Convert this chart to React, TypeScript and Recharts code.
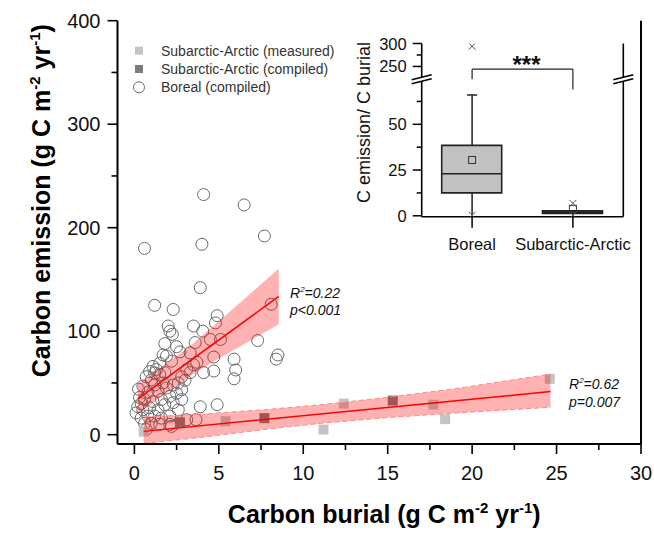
import React from 'react';
import { ComposedChart, Scatter, Line, Area, Bar, XAxis, YAxis, ReferenceLine } from 'recharts';

const FONT = '"Liberation Sans", Arial, Helvetica, sans-serif';

// ---------- main scatter data ----------
const seriesNames = ['Subarctic-Arctic (measured)', 'Subarctic-Arctic (compiled)', 'Boreal (compiled)'];

const borealPoints: [number, number][] = [
  [4.1, 232], [6.5, 222], [0.6, 180], [4.0, 184], [7.7, 192], [3.9, 142],
  [1.2, 125], [2.3, 121], [8.1, 126], [4.9, 115], [2.0, 105], [2.1, 100], [2.25, 97],
  [3.5, 105], [4.05, 100], [4.8, 108], [5.1, 92], [7.3, 91], [4.5, 92], [3.6, 89],
  [1.8, 88], [2.5, 85], [2.7, 80], [1.9, 76], [3.3, 79], [4.7, 75], [5.9, 73],
  [8.5, 77], [8.4, 73], [3.7, 70], [3.1, 63], [4.1, 60], [4.7, 61.5], [6.0, 62.5],
  [5.9, 54], [3.0, 52.5], [3.9, 27], [4.9, 29], [3.3, 60], [3.5, 67.6], [2.8, 56],
  [1.1, 66], [0.9, 61], [1.3, 63], [0.7, 56], [1.0, 53], [1.5, 58], [1.8, 60],
  [1.2, 48], [1.7, 50], [0.5, 47], [0.25, 44], [0.8, 41], [1.4, 42], [1.9, 45],
  [2.3, 48], [2.6, 50], [2.8, 43.5], [0.6, 34], [1.1, 32], [1.6, 34], [2.1, 37],
  [2.5, 40], [0.2, 27], [0.5, 24], [0.9, 26], [1.4, 24], [1.8, 29], [2.3, 31],
  [0.1, 21], [0.4, 16], [0.8, 18], [1.2, 18], [1.6, 16], [2.1, 18], [1.0, 11],
  [0.6, 11], [1.5, 10], [2.1, 10], [0.7, 5], [3.1, 14.5], [3.65, 14.5], [2.6, 24],
  [2.8, 34], [1.5, 69], [2.2, 71], [2.2, 8], [0.3, 36], [0.4, 30], [1.7, 77], [1.2, 59.6],
];
const subMeasuredPoints: [number, number][] = [
  [0.55, 3], [5.4, 13], [11.2, 5], [12.4, 30], [17.7, 29], [18.4, 15], [24.6, 54],
];
const subCompiledPoints: [number, number][] = [[2.7, 12], [7.7, 16], [15.3, 33]];

// regression lines and 95% bands
const borealFitX = [0.2, 8.55];
const borealFitY = [34.5, 133.6];
const borealBandX = [0.2, 1.5, 3.5, 5, 7, 8.55];
const borealBandLow = [20, 35.9, 58.6, 73.5, 92.2, 106.6];
const borealBandHigh = [49, 63.9, 88.6, 109.5, 138.2, 160.6];

const subFitX = [0.55, 24.64];
const subFitY = [3.2, 41.7];
const subBandX = [0.55, 4, 8, 11, 15, 19, 24.64];
const subBandLow = [-8.5, -2.5, 5.65, 10.9, 16.5, 20.9, 26.5];
const subBandHigh = [17, 19.9, 24.55, 28.9, 36.1, 44.5, 58.5];

const xTicks = [0, 2.5, 5, 7.5, 10, 12.5, 15, 17.5, 20, 22.5, 25, 27.5, 30];
const yTicks = [0, 50, 100, 150, 200, 250, 300, 350, 400];
const X_DOMAIN: [number, number] = [-1, 30];
const Y_DOMAIN: [number, number] = [-9, 400];

// ---------- inset box plot data ----------
const insetCategories = ['Boreal', 'Subarctic-Arctic'];
const boxQ1 = [12.5, 1.3];
const boxQ3 = [38.5, 2.7];
const boxMedian = [23, 2];
const boxMean = [30.5, 3.8];
const whiskerLow = [0.5, 0.6];
const whiskerHigh = [66, 2.7];
const boxMin = [0.3, 0.4];
const boxMax = [294, 6.8];
const LOWER_DOMAIN: [number, number] = [-0.5, 74.6];
const UPPER_DOMAIN: [number, number] = [222, 300];
const lowerTicks = [0, 12.5, 25, 37.5, 50, 62.5];
const lowerMajor = [0, 25, 50];
const upperTicks = [250, 275, 300];
const upperMajor = [250, 300];
const bracketY = 244;
const bracketRightEnd = 69;

const toXY = (pts: [number, number][]) => pts.map(([x, y]) => ({ x, y }));
const borealData = toXY(borealPoints);
const subMeasuredData = toXY(subMeasuredPoints);
const subCompiledData = toXY(subCompiledPoints);
const borealFit = borealFitX.map((x, i) => ({ x, y: borealFitY[i] }));
const subFit = subFitX.map((x, i) => ({ x, y: subFitY[i] }));
const borealBand = borealBandX.map((x, i) => ({ x, band: [borealBandLow[i], borealBandHigh[i]] }));
const subBand = subBandX.map((x, i) => ({ x, band: [subBandLow[i], subBandHigh[i]] }));

const boxRows = insetCategories.map((name, i) => ({
  name,
  box: [boxQ1[i], boxQ3[i]],
  q1: boxQ1[i],
  q3: boxQ3[i],
  median: boxMedian[i],
  mean: boxMean[i],
  wLow: whiskerLow[i],
  wHigh: whiskerHigh[i],
  min: boxMin[i],
  max: boxMax[i],
}));

const MEASURED_COLOR = '#c4c4c4';
const COMPILED_COLOR = '#7c7c7c';
const CIRCLE_COLOR = '#6a6a6a';

// ---------- ticks ----------
const MainXTick = (props: any) => {
  const { x, y, payload } = props;
  const v = payload.value;
  const major = v % 5 === 0;
  return (
    <g>
      <line x1={x} y1={y} x2={x} y2={y + (major ? 10 : 6)} stroke="#000" strokeWidth={1.6} />
      {major && (
        <text x={x} y={y + 36} textAnchor="middle" fontSize={20} fontFamily={FONT} fill="#111">
          {v}
        </text>
      )}
    </g>
  );
};

const MainYTick = (props: any) => {
  const { x, y, payload } = props;
  const v = payload.value;
  const major = v % 100 === 0;
  return (
    <g>
      <line x1={x} y1={y} x2={x - (major ? 10 : 6)} y2={y} stroke="#000" strokeWidth={1.6} />
      {major && (
        <text x={x - 17} y={y + 7} textAnchor="end" fontSize={20} fontFamily={FONT} fill="#111">
          {v}
        </text>
      )}
    </g>
  );
};

const makeInsetYTick = (majors: number[]) => (props: any) => {
  const { x, y, payload } = props;
  const major = majors.includes(payload.value);
  return (
    <g>
      <line x1={x} y1={y} x2={x - (major ? 9 : 5)} y2={y} stroke="#000" strokeWidth={1.5} />
      {major && (
        <text x={x - 15} y={y + 6} textAnchor="end" fontSize={16.5} fontFamily={FONT} fill="#111">
          {payload.value}
        </text>
      )}
    </g>
  );
};

const InsetXTick = (props: any) => {
  const { x, y, payload } = props;
  return (
    <g>
      <line x1={x} y1={y} x2={x} y2={y + 11} stroke="#000" strokeWidth={1.5} />
      <text x={x} y={y + 33} textAnchor="middle" fontSize={16.5} fontFamily={FONT} fill="#111">
        {payload.value}
      </text>
    </g>
  );
};

// ---------- titles ----------
const XTitle = (props: any) => {
  const vb = props.viewBox || { x: 117.5, y: 444, width: 523.5, height: 89 };
  const cx = vb.x + vb.width / 2 + 5;
  return (
    <text x={cx} y={vb.y + 79} textAnchor="middle" fontSize={25} fontWeight="bold" fontFamily={FONT} fill="#000">
      <tspan>Carbon burial (g C m</tspan>
      <tspan fontSize={15} dy={-10}>-2</tspan>
      <tspan dy={10}> yr</tspan>
      <tspan fontSize={15} dy={-10}>-1</tspan>
      <tspan dy={10}>)</tspan>
    </text>
  );
};

const YTitle = (props: any) => {
  const vb = props.viewBox || { x: 0, y: 20.7, width: 117.5, height: 423.3 };
  const x = vb.x + 50;
  const y = vb.y + 180;
  return (
    <text
      x={x}
      y={y}
      transform={`rotate(-90, ${x}, ${y})`}
      textAnchor="middle"
      fontSize={25}
      fontWeight="bold"
      fontFamily={FONT}
      fill="#000"
    >
      <tspan>Carbon emission (g C m</tspan>
      <tspan fontSize={15} dy={-10}>-2</tspan>
      <tspan dy={10}> yr</tspan>
      <tspan fontSize={15} dy={-10}>-1</tspan>
      <tspan dy={10}>)</tspan>
    </text>
  );
};

// ---------- shapes ----------
const circleShape = (p: any) => (
  <circle cx={p.cx} cy={p.cy} r={6} fill="none" stroke={CIRCLE_COLOR} strokeWidth={1} />
);
const squareShape = (color: string) => (p: any) => (
  <rect x={p.cx - 5} y={p.cy - 5} width={10} height={10} fill={color} />
);
const medianShape = (p: any) => (
  <line x1={p.cx - 30} x2={p.cx + 30} y1={p.cy} y2={p.cy} stroke="#222" strokeWidth={1.6} />
);
const capShape = (p: any) => (
  <line x1={p.cx - 5} x2={p.cx + 5} y1={p.cy} y2={p.cy} stroke="#222" strokeWidth={1.5} />
);
const meanShape = (p: any) => (
  <rect x={p.cx - 3.5} y={p.cy - 3.5} width={7} height={7} fill="none" stroke="#333" strokeWidth={1} />
);
const crossShape = (p: any) => (
  <g stroke="#555" strokeWidth={1}>
    <line x1={p.cx - 3.5} y1={p.cy - 3.5} x2={p.cx + 3.5} y2={p.cy + 3.5} />
    <line x1={p.cx - 3.5} y1={p.cy + 3.5} x2={p.cx + 3.5} y2={p.cy - 3.5} />
  </g>
);

const starsLabel = (props: any) => {
  const vb = props.viewBox || { x: 0, y: 0, width: 0 };
  return (
    <text x={vb.x + vb.width / 2 + 4} y={vb.y + 4} textAnchor="middle" fontSize={24} fontWeight="bold" fontFamily={FONT} fill="#111">
      ***
    </text>
  );
};

// ---------- charts ----------
const MainChart = () => (
  <ComposedChart width={654} height={533} margin={{ top: 20.7, right: 12, bottom: 0, left: 0 }}>
    <XAxis
      dataKey="x"
      type="number"
      domain={X_DOMAIN}
      ticks={xTicks}
      allowDataOverflow
      interval={0}
      height={89}
      tickSize={0}
      tickMargin={0}
      tickLine={false}
      tick={MainXTick}
      axisLine={{ stroke: '#000', strokeWidth: 2 }}
      label={XTitle}
    />
    <XAxis
      xAxisId="top"
      orientation="top"
      type="number"
      domain={X_DOMAIN}
      allowDataOverflow
      height={0}
      tick={false}
      tickLine={false}
      axisLine={{ stroke: '#000', strokeWidth: 2 }}
    />
    <YAxis
      type="number"
      domain={Y_DOMAIN}
      ticks={yTicks}
      allowDataOverflow
      interval={0}
      width={117.5}
      tickSize={0}
      tickMargin={0}
      tickLine={false}
      tick={MainYTick}
      axisLine={{ stroke: '#000', strokeWidth: 2 }}
      label={YTitle}
    />
    <YAxis
      yAxisId="right"
      orientation="right"
      type="number"
      domain={Y_DOMAIN}
      allowDataOverflow
      width={1}
      tick={false}
      tickLine={false}
      axisLine={{ stroke: '#000', strokeWidth: 2 }}
    />
    <Scatter name={seriesNames[2]} data={borealData} dataKey="y" shape={circleShape} isAnimationActive={false} zIndex={50} />
    <Scatter name={seriesNames[0]} data={subMeasuredData} dataKey="y" shape={squareShape(MEASURED_COLOR)} isAnimationActive={false} zIndex={50} />
    <Scatter name={seriesNames[1]} data={subCompiledData} dataKey="y" shape={squareShape(COMPILED_COLOR)} isAnimationActive={false} zIndex={50} />
    <Area data={borealBand} dataKey="band" type="linear" fill="#ff0000" fillOpacity={0.3} stroke="none" isAnimationActive={false} dot={false} activeDot={false} zIndex={150} />
    <Area
      data={subBand}
      dataKey="band"
      type="linear"
      fill="#ff0000"
      fillOpacity={0.3}
      stroke="#ff8a8a"
      strokeWidth={1}
      strokeDasharray="5 3"
      isAnimationActive={false}
      dot={false}
      activeDot={false}
      zIndex={150}
    />
    <Line data={borealFit} dataKey="y" type="linear" stroke="#ff0000" strokeWidth={1.5} dot={false} activeDot={false} isAnimationActive={false} zIndex={400} />
    <Line data={subFit} dataKey="y" type="linear" stroke="#ff0000" strokeWidth={1.5} dot={false} activeDot={false} isAnimationActive={false} zIndex={400} />
  </ComposedChart>
);

const INSET_LEFT = 421.7;
const INSET_RIGHT = 623.3;
const INSET_TOP = 43.5;
const INSET_BREAK = 79.3;
const INSET_BOTTOM = 216.7;
const INSET_YAXIS_W = 60;
const INSET_XAXIS_H = 40;

const InsetUpper = () => (
  <ComposedChart
    width={654}
    height={533}
    data={boxRows}
    margin={{ top: INSET_TOP, right: 654 - INSET_RIGHT - 1, bottom: 533 - INSET_BREAK, left: INSET_LEFT - INSET_YAXIS_W }}
  >
    <XAxis
      dataKey="name"
      type="category"
      scale="band"
      orientation="top"
      height={0}
      tick={false}
      tickLine={false}
      axisLine={{ stroke: '#000', strokeWidth: 1.6 }}
    />
    <YAxis
      type="number"
      domain={UPPER_DOMAIN}
      ticks={upperTicks}
      allowDataOverflow
      interval={0}
      width={INSET_YAXIS_W}
      tickSize={0}
      tickMargin={0}
      tickLine={false}
      tick={makeInsetYTick(upperMajor)}
      axisLine={{ stroke: '#000', strokeWidth: 1.6 }}
    />
    <YAxis
      yAxisId="right"
      orientation="right"
      type="number"
      domain={UPPER_DOMAIN}
      allowDataOverflow
      width={1}
      tick={false}
      tickLine={false}
      axisLine={{ stroke: '#000', strokeWidth: 1.6 }}
    />
    <Scatter dataKey="max" shape={crossShape} isAnimationActive={false} />
    <ReferenceLine
      segment={[{ x: insetCategories[0], y: bracketY }, { x: insetCategories[1], y: bracketY }]}
      stroke="#222"
      strokeWidth={1.2}
      label={starsLabel}
    />
    <ReferenceLine
      segment={[{ x: insetCategories[0], y: bracketY }, { x: insetCategories[0], y: UPPER_DOMAIN[0] }]}
      stroke="#222"
      strokeWidth={1.2}
    />
    <ReferenceLine
      segment={[{ x: insetCategories[1], y: bracketY }, { x: insetCategories[1], y: UPPER_DOMAIN[0] }]}
      stroke="#222"
      strokeWidth={1.2}
    />
  </ComposedChart>
);

const InsetLower = () => (
  <ComposedChart
    width={654}
    height={533}
    data={boxRows}
    margin={{
      top: INSET_BREAK,
      right: 654 - INSET_RIGHT - 1,
      bottom: 533 - INSET_BOTTOM - INSET_XAXIS_H,
      left: INSET_LEFT - INSET_YAXIS_W,
    }}
  >
    <XAxis
      dataKey="name"
      type="category"
      scale="band"
      height={INSET_XAXIS_H}
      interval={0}
      tickSize={0}
      tickMargin={0}
      tickLine={false}
      tick={InsetXTick}
      axisLine={{ stroke: '#000', strokeWidth: 1.6 }}
    />
    <YAxis
      type="number"
      domain={LOWER_DOMAIN}
      ticks={lowerTicks}
      allowDataOverflow
      interval={0}
      width={INSET_YAXIS_W}
      tickSize={0}
      tickMargin={0}
      tickLine={false}
      tick={makeInsetYTick(lowerMajor)}
      axisLine={{ stroke: '#000', strokeWidth: 1.6 }}
    />
    <YAxis
      yAxisId="right"
      orientation="right"
      type="number"
      domain={LOWER_DOMAIN}
      allowDataOverflow
      width={1}
      tick={false}
      tickLine={false}
      axisLine={{ stroke: '#000', strokeWidth: 1.6 }}
    />
    {boxRows.map((r) => (
      <ReferenceLine key={`wh-${r.name}`} segment={[{ x: r.name, y: r.q3 }, { x: r.name, y: r.wHigh }]} stroke="#222" strokeWidth={1.5} />
    ))}
    {boxRows.map((r) => (
      <ReferenceLine key={`wl-${r.name}`} segment={[{ x: r.name, y: r.q1 }, { x: r.name, y: r.wLow }]} stroke="#222" strokeWidth={1.5} />
    ))}
    <Bar dataKey="box" barSize={60} fill="#c2c2c2" stroke="#222" strokeWidth={1.6} isAnimationActive={false} />
    <Scatter dataKey="median" shape={medianShape} isAnimationActive={false} />
    <Scatter dataKey="wHigh" shape={capShape} isAnimationActive={false} />
    <Scatter dataKey="mean" shape={meanShape} isAnimationActive={false} />
    <Scatter dataKey="max" shape={crossShape} isAnimationActive={false} />
    <Scatter dataKey="min" shape={crossShape} isAnimationActive={false} />
    <ReferenceLine
      segment={[{ x: insetCategories[1], y: LOWER_DOMAIN[1] }, { x: insetCategories[1], y: bracketRightEnd }]}
      stroke="#222"
      strokeWidth={1.2}
    />
  </ComposedChart>
);

const BreakMark = ({ x0, y0 }: { x0: number; y0: number }) => (
  <g>
    <polygon
      points={`${x0 - 10},${y0 + 0.5} ${x0 + 10},${y0 - 4.5} ${x0 + 10},${y0 - 0.5} ${x0 - 10},${y0 + 4.5}`}
      fill="#fff"
    />
    <line x1={x0 - 10} y1={y0 + 0.5} x2={x0 + 10} y2={y0 - 4.5} stroke="#000" strokeWidth={1.5} />
    <line x1={x0 - 10} y1={y0 + 4.5} x2={x0 + 10} y2={y0 - 0.5} stroke="#000" strokeWidth={1.5} />
  </g>
);

const legendRows = [
  { name: seriesNames[0], kind: 'measured', y: 50.7 },
  { name: seriesNames[1], kind: 'compiled', y: 69 },
  { name: seriesNames[2], kind: 'circle', y: 87.3 },
];

const Overlay = () => (
  <svg width={654} height={533} style={{ position: 'absolute', left: 0, top: 0 }}>
    {legendRows.map((r) => (
      <g key={r.name}>
        {r.kind === 'circle' ? (
          <circle cx={139} cy={r.y} r={5.5} fill="none" stroke={CIRCLE_COLOR} strokeWidth={1} />
        ) : (
          <rect x={135} y={r.y - 4} width={8} height={8} fill={r.kind === 'measured' ? MEASURED_COLOR : COMPILED_COLOR} />
        )}
        <text x={161} y={r.y + 5} fontSize={14} fontFamily={FONT} fill="#333">
          {r.name}
        </text>
      </g>
    ))}
    <g fontFamily={FONT} fontStyle="italic" fontSize={14} fill="#111">
      <text x={290} y={298}>
        <tspan>R</tspan>
        <tspan fontSize={8} dy={-6}>2</tspan>
        <tspan dy={6}>=0.22</tspan>
      </text>
      <text x={290} y={315}>p&lt;0.001</text>
      <text x={569} y={389}>
        <tspan>R</tspan>
        <tspan fontSize={8} dy={-6}>2</tspan>
        <tspan dy={6}>=0.62</tspan>
      </text>
      <text x={569} y={406.5}>p=0.007</text>
    </g>
    <text
      x={370}
      y={122.5}
      transform="rotate(-90, 370, 122.5)"
      textAnchor="middle"
      fontSize={18}
      fontFamily={FONT}
      fill="#111"
    >
      C emission/ C burial
    </text>
    <BreakMark x0={INSET_LEFT} y0={INSET_BREAK} />
    <BreakMark x0={INSET_RIGHT} y0={INSET_BREAK} />
  </svg>
);

export default function App() {
  return (
    <div style={{ position: 'absolute', left: 0, top: 0, width: 654, height: 533, background: '#fff' }}>
      <div style={{ position: 'absolute', left: 0, top: 0 }}>
        <MainChart />
      </div>
      <div style={{ position: 'absolute', left: 0, top: 0 }}>
        <InsetUpper />
      </div>
      <div style={{ position: 'absolute', left: 0, top: 0 }}>
        <InsetLower />
      </div>
      <Overlay />
    </div>
  );
}
